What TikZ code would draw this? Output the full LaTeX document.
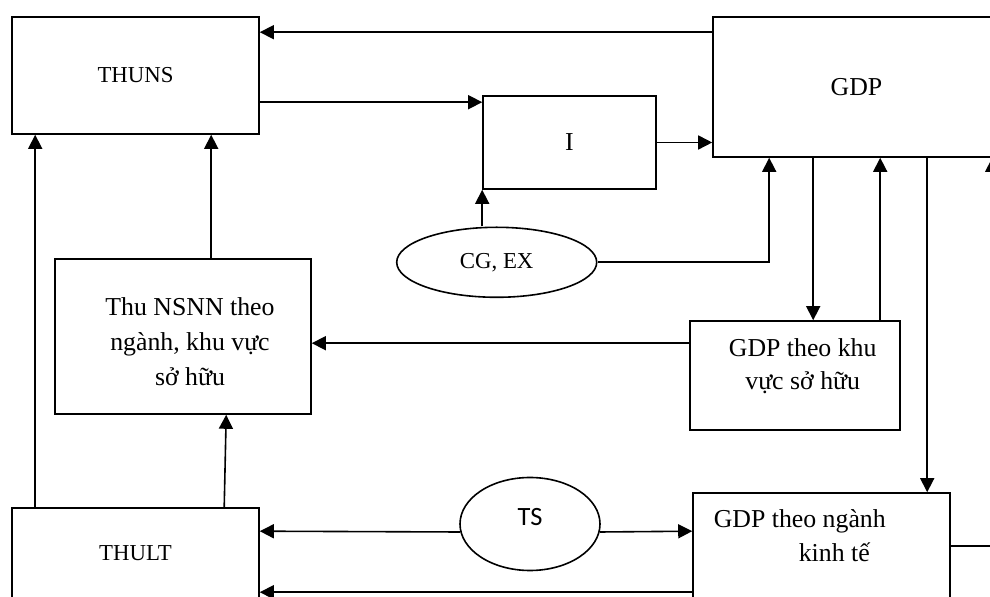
\documentclass[tikz,border=0pt]{standalone}
\usepackage{fontspec}
\setmainfont{Liberation Serif}
\newfontfamily\tsfont{Carlito}
\usetikzlibrary{arrows.meta,calc,shapes.geometric}

\begin{document}
\begin{tikzpicture}[x=0.5pt,y=-0.5pt,line width=0.8pt,
		>={Triangle[length=7pt,width=7pt]},
		hop/.style={draw,rectangle,inner sep=0pt},
		oval/.style={draw,ellipse,inner sep=0pt},
		chu/.style={font=\fontsize{11.4}{14}\selectfont},
		chulon/.style={font=\fontsize{12.9}{17}\selectfont,align=center,inner sep=0pt}]
		\path[use as bounding box,clip] (0,0) rectangle (990,597);
		% cac khoi
		\node[hop,chu,minimum width=123.5pt,minimum height=58.5pt] (thuns) at (135.5,75.5) {THUNS};
		\node[hop,chulon,minimum width=86.5pt,minimum height=46.5pt] (invest) at (569.5,142.5) {I};
		\node[hop,chulon,minimum width=143.5pt,minimum height=70pt] (gdp) at (856.5,87) {GDP};
		\node[oval,chu,minimum width=100pt,minimum height=35pt] (cgex) at (496.7,262.3) {CG, EX};
		\node[hop,minimum width=128pt,minimum height=77.5pt] (thunsnn) at (183,336.5) {};
		\node[chulon,font=\fontsize{12.9}{17.5}\selectfont,anchor=north] (thunsnn-chu) at (190,296.5) {Thu NSNN theo\\ngành, khu vực\\sở hữu};
		\node[hop,minimum width=105pt,minimum height=54.5pt] (gdpkhu) at (795,375.5) {};
		\node[chulon,font=\fontsize{12.9}{16.5}\selectfont,anchor=north] (gdpkhu-chu) at (802.7,337.5) {GDP theo khu\\vực sở hữu};
		\node[hop,minimum width=128.5pt,minimum height=63.5pt] (gdpnganh) at (821.5,556.5) {};
		\node[chulon,anchor=north west,align=left] (gdpnganh-chu) at (713,508.5) {GDP theo ngành\\\hspace*{42.5pt}kinh tế};
		\node[hop,chu,minimum width=123.5pt,minimum height=45.5pt] (thult) at (135.5,553.5) {THULT};
		\node[oval,font=\fontsize{13.2}{16}\tsfont,minimum width=70pt,minimum height=46.5pt,text depth=7pt] (ts) at (530,524) {TS};
		% cac mui ten
		\draw[->] ($(gdp.north west)+(0,16)$) -- ($(thuns.north east)+(0,16)$);
		\draw[->] ($(thuns.north east)+(0,86)$) -- ($(invest.north west)+(0,7)$);
		\draw[->] (invest.east) -- (invest.east -| gdp.west);
		\draw[->] (cgex.north -| invest.south west) -- (invest.south west);
		\draw[->] (cgex.east) -| ($(gdp.south west)+(57,0)$);
		\draw[->] ($(gdp.south west)+(101,0)$) -- ($(gdpkhu.north west)+(124,0)$);
		\draw[->] ($(gdpkhu.north west)+(191,0)$) -- ($(gdp.south west)+(168,0)$);
		\draw[->] ($(gdp.south west)+(215,0)$) -- ($(gdpnganh.north west)+(235,0)$);
		\draw[->] ($(gdpnganh.north east)+(0,54)$) -| ($(gdp.south west)+(280,0)$);
		\draw[->] ($(gdpkhu.north west)+(0,23)$) -- ($(thunsnn.north east)+(0,85)$);
		\draw[->] ($(thunsnn.north west)+(157,0)$) -- ($(thuns.south west)+(200,0)$);
		\draw[->] ($(thult.north west)+(24,0)$) -- ($(thuns.south west)+(24,0)$);
		\draw[->] ($(thult.north west)+(213,0)$) -- ($(thunsnn.south west)+(172,0)$);
		\draw[->] ($(ts.west)+(1,8)$) -- ($(thult.north east)+(0,24)$);
		\draw[->] ($(ts.east)+(-1,8)$) -- ($(gdpnganh.north west)+(0,39)$);
		\draw[->] ($(gdpnganh.north west)+(0,100)$) -- ($(thult.north east)+(0,85)$);
\end{tikzpicture}
\end{document}
